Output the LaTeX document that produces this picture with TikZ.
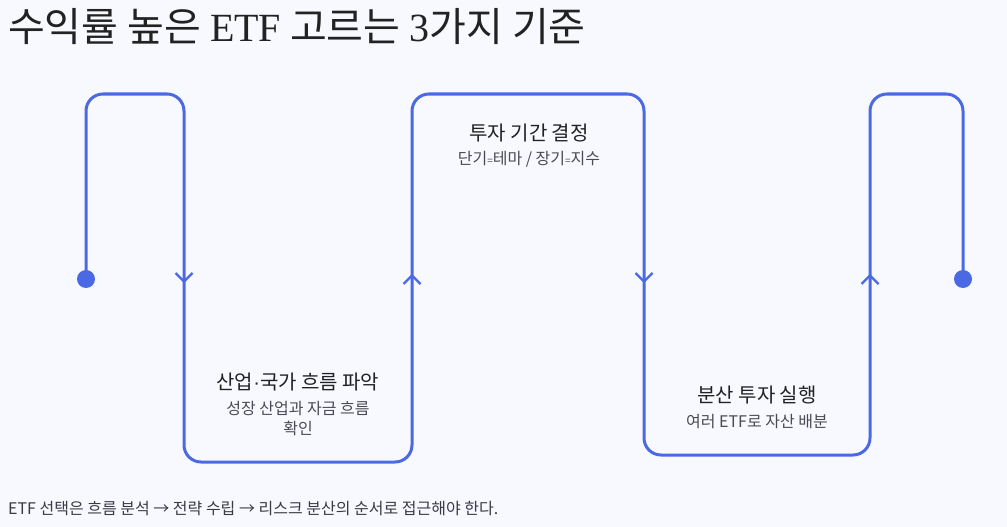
\documentclass[tikz,border=0pt]{standalone}
\usepackage{fontspec}
\setmainfont{Noto Sans CJK KR}
\newfontfamily\serifl{Liberation Serif}
\newfontfamily\latsans{Liberation Sans}
\newcommand{\smeq}{{\fontsize{10}{10}\selectfont =}}
\begin{document}
\begin{tikzpicture}[x=1pt,y=-1pt,
  flow/.style={draw=flowblue,line width=3pt,rounded corners=17pt},
  chev/.style={draw=flowblue,line width=2.4pt,line join=miter},
  dotnode/.style={circle,fill=flowblue,minimum size=18pt,inner sep=0pt},
  head/.style={anchor=base,text=headc,font=\fontsize{20}{24}\selectfont},
  sub/.style={anchor=base,text=subc,font=\fontsize{16}{20}\selectfont}]
\definecolor{flowblue}{HTML}{4A69E2}
\definecolor{headc}{HTML}{222222}
\definecolor{subc}{HTML}{4A4A55}
\definecolor{bgc}{HTML}{F8F9FE}
\definecolor{footc}{HTML}{3A3A44}
\fill[bgc] (0,0) rectangle (1007,527);
\useasboundingbox (0,0) rectangle (1007,527);
% title
\node[anchor=base west,inner sep=0pt,text=headc,font=\fontsize{40}{46}\selectfont] (title) at (8,42) {수익률 높은 {\serifl ETF} 고르는 {\serifl 3}가지 기준};
% end dots
\node[dotnode] (d1) at (86,279) {};
\node[dotnode] (d2) at (963,279) {};
% corners
\coordinate (c1) at (86,94);  \coordinate (c2) at (184,94);
\coordinate (c3) at (184,462); \coordinate (c4) at (412,462);
\coordinate (c5) at (412,94); \coordinate (c6) at (644,94);
\coordinate (c7) at (644,455); \coordinate (c8) at (870,455);
\coordinate (c9) at (870,94); \coordinate (c10) at (963,94);
\draw[flow] (d1.center) -- (c1) -- (c2) -- (c3) -- (c4) -- (c5) -- (c6) -- (c7) -- (c8) -- (c9) -- (c10) -- (d2.center);
% chevrons
\draw[chev] (175.5,273) -- (184,281.5) -- (192.5,273);
\draw[chev] (403.5,284) -- (412,275.5) -- (420.5,284);
\draw[chev] (635.5,273) -- (644,281.5) -- (652.5,273);
\draw[chev] (861.5,284) -- (870,275.5) -- (878.5,284);
% labels
\node[head] (h1) at (298,389) {산업{\latsans ·}국가 흐름 파악};
\node[sub] (s1a) at (298,414) {성장 산업과 자금 흐름};
\node[sub] (s1b) at (298,434) {확인};
\node[head] (h2) at (529,140) {투자 기간 결정};
\node[sub] (s2) at (529,164) {단기\smeq 테마 / 장기\smeq 지수};
\node[head] (h3) at (757,402) {분산 투자 실행};
\node[sub] (s3) at (757,427) {여러 ETF로 자산 배분};
% footer
\node[anchor=base west,inner sep=0pt,text=footc,font=\fontsize{16}{18}\selectfont] (foot) at (8,514) {ETF 선택은 흐름 분석 → 전략 수립 → 리스크 분산의 순서로 접근해야 한다.};
\end{tikzpicture}
\end{document}
